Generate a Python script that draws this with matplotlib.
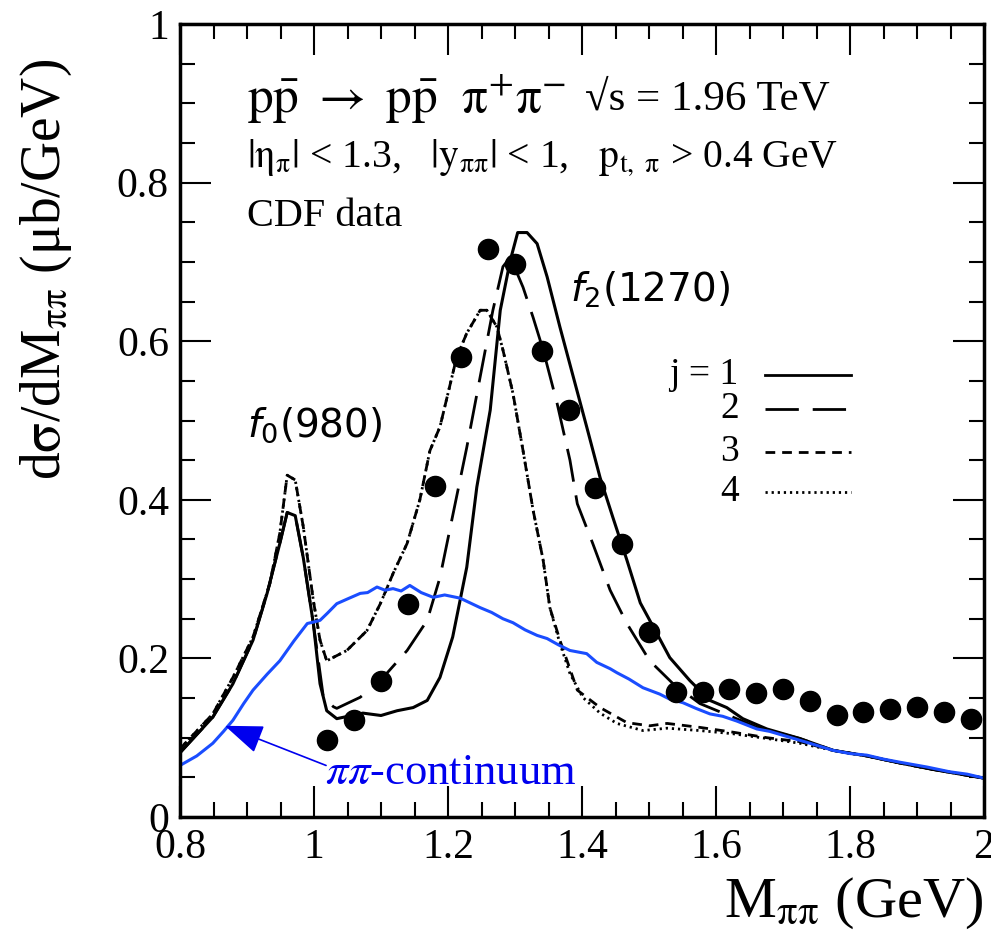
import matplotlib
matplotlib.use("Agg")
import matplotlib.pyplot as plt
import numpy as np

plt.rcParams['font.family'] = ['Liberation Serif', 'DejaVu Serif']
plt.rcParams['mathtext.fontset'] = 'stix'

# ---- data ----
data_m = [1.02, 1.06, 1.10, 1.14, 1.18, 1.22, 1.26, 1.30, 1.34, 1.38, 1.42, 1.46, 1.50,
          1.54, 1.58, 1.62, 1.66, 1.70, 1.74, 1.78, 1.82, 1.86, 1.90, 1.94, 1.98]
data_v = [0.097, 0.122, 0.171, 0.268, 0.417, 0.580, 0.716, 0.697, 0.588, 0.513, 0.415, 0.344, 0.233,
          0.157, 0.157, 0.162, 0.156, 0.162, 0.146, 0.129, 0.132, 0.136, 0.139, 0.133, 0.124]

tail_m = [1.775, 1.825, 1.875, 1.924, 1.965, 2.0]
tail_v = [0.084, 0.077, 0.068, 0.060, 0.054, 0.049]

j1_m = [0.800, 0.849, 0.879, 0.909, 0.930, 0.949, 0.960, 0.972, 0.984, 0.999, 1.009, 1.019, 1.034,
        1.073, 1.100, 1.124, 1.148, 1.169, 1.188, 1.207, 1.228, 1.243, 1.263, 1.278, 1.293, 1.304,
        1.318, 1.333, 1.348, 1.367, 1.387, 1.407, 1.427, 1.446, 1.467, 1.487, 1.512, 1.531, 1.561,
        1.591, 1.616, 1.640, 1.676, 1.725]
j1_v = [0.081, 0.126, 0.168, 0.223, 0.282, 0.345, 0.384, 0.380, 0.327, 0.244, 0.168, 0.134, 0.124,
        0.131, 0.128, 0.134, 0.138, 0.147, 0.176, 0.227, 0.315, 0.416, 0.513, 0.639, 0.702, 0.737,
        0.737, 0.723, 0.681, 0.618, 0.555, 0.492, 0.428, 0.378, 0.324, 0.270, 0.231, 0.201, 0.172,
        0.147, 0.138, 0.124, 0.111, 0.099]

j2_m = [0.800, 0.849, 0.879, 0.909, 0.930, 0.949, 0.960, 0.972, 0.984, 0.999, 1.014, 1.029, 1.034,
        1.069, 1.099, 1.139, 1.169, 1.188, 1.207, 1.228, 1.248, 1.267, 1.282, 1.293, 1.312, 1.327,
        1.342, 1.363, 1.382, 1.393, 1.416, 1.442, 1.467, 1.501, 1.536, 1.576, 1.625, 1.661, 1.725]
j2_v = [0.081, 0.126, 0.168, 0.223, 0.282, 0.345, 0.384, 0.380, 0.327, 0.244, 0.151, 0.139, 0.137,
        0.151, 0.172, 0.210, 0.248, 0.302, 0.380, 0.466, 0.555, 0.639, 0.694, 0.706, 0.668, 0.630,
        0.589, 0.521, 0.450, 0.395, 0.345, 0.286, 0.244, 0.197, 0.168, 0.143, 0.126, 0.113, 0.099]

j3_m = [0.800, 0.849, 0.879, 0.909, 0.934, 0.949, 0.960, 0.972, 0.984, 0.999, 1.009, 1.019, 1.049,
        1.079, 1.099, 1.118, 1.139, 1.158, 1.173, 1.188, 1.213, 1.228, 1.248, 1.258, 1.273, 1.282,
        1.297, 1.312, 1.327, 1.342, 1.352, 1.367, 1.393, 1.427, 1.467, 1.501, 1.527, 1.576, 1.625,
        1.676, 1.725]
j3_v = [0.086, 0.130, 0.176, 0.227, 0.294, 0.358, 0.431, 0.425, 0.366, 0.273, 0.223, 0.197, 0.210,
        0.235, 0.269, 0.307, 0.345, 0.400, 0.462, 0.492, 0.580, 0.610, 0.639, 0.639, 0.618, 0.589,
        0.534, 0.462, 0.387, 0.324, 0.264, 0.223, 0.160, 0.138, 0.119, 0.115, 0.118, 0.113, 0.107,
        0.100, 0.095]

j4_m = [0.800, 0.849, 0.879, 0.909, 0.934, 0.949, 0.960, 0.972, 0.984, 0.999, 1.009, 1.019, 1.049,
        1.079, 1.099, 1.118, 1.139, 1.158, 1.173, 1.188, 1.213, 1.228, 1.248, 1.258, 1.273, 1.282,
        1.297, 1.312, 1.327, 1.342, 1.352, 1.367, 1.382, 1.401, 1.427, 1.452, 1.491, 1.527, 1.576,
        1.625, 1.676, 1.725]
j4_v = [0.086, 0.130, 0.176, 0.227, 0.294, 0.358, 0.431, 0.425, 0.366, 0.273, 0.223, 0.197, 0.210,
        0.235, 0.269, 0.307, 0.345, 0.400, 0.462, 0.492, 0.580, 0.610, 0.639, 0.639, 0.618, 0.589,
        0.534, 0.462, 0.387, 0.324, 0.264, 0.219, 0.181, 0.151, 0.131, 0.118, 0.109, 0.112, 0.109,
        0.105, 0.099, 0.093]

cont_m = [0.800, 0.825, 0.849, 0.865, 0.879, 0.895, 0.909, 0.930, 0.949, 0.970, 0.990, 1.000, 1.009,
          1.020, 1.034, 1.050, 1.069, 1.080, 1.094, 1.106, 1.118, 1.130, 1.143, 1.160, 1.178, 1.195,
          1.218, 1.233, 1.248, 1.265, 1.282, 1.297, 1.315, 1.333, 1.348, 1.365, 1.382, 1.407, 1.422,
          1.442, 1.452, 1.470, 1.491, 1.516, 1.530, 1.551, 1.570, 1.591, 1.610, 1.631, 1.661, 1.680,
          1.700, 1.740, 1.775, 1.800, 1.825, 1.850, 1.875, 1.915, 1.949, 1.975, 2.000]
cont_v = [0.065, 0.077, 0.093, 0.108, 0.122, 0.143, 0.160, 0.180, 0.197, 0.222, 0.244, 0.246, 0.248,
          0.257, 0.269, 0.275, 0.282, 0.283, 0.290, 0.286, 0.288, 0.285, 0.292, 0.283, 0.277, 0.280,
          0.276, 0.270, 0.264, 0.258, 0.250, 0.245, 0.236, 0.229, 0.225, 0.217, 0.210, 0.206, 0.195,
          0.187, 0.182, 0.174, 0.163, 0.155, 0.149, 0.144, 0.137, 0.130, 0.127, 0.121, 0.111, 0.108,
          0.103, 0.093, 0.084, 0.080, 0.078, 0.073, 0.069, 0.063, 0.057, 0.054, 0.049]

legend_labels = ['1', '2', '3', '4']

# ---- figure ----
fig = plt.figure(figsize=(9.91, 9.42), dpi=100)
ax = fig.add_axes([180/991, (942-817)/942, 804/991, 793/942])

LS2 = (0, (12, 5))
LS3 = (0, (3.5, 2.5))
LS4 = (0, (0.8, 1.4))
ax.plot(j1_m + tail_m, j1_v + tail_v, color='black', lw=2.2, ls='-')
ax.plot(j2_m + tail_m, j2_v + tail_v, color='black', lw=2.0, ls=LS2)
ax.plot(j3_m + tail_m, j3_v + tail_v, color='black', lw=2.0, ls=LS3)
ax.plot(j4_m + tail_m, j4_v + tail_v, color='black', lw=2.0, ls=LS4)
ax.plot(cont_m, cont_v, color='#1a4dff', lw=2.2)
ax.plot(data_m, data_v, 'o', color='black', ms=14.5, zorder=5)

ax.set_xlim(0.8, 2.0)
ax.set_ylim(0, 1)
ax.set_xticks([0.8, 1.0, 1.2, 1.4, 1.6, 1.8, 2.0])
ax.set_xticklabels(['0.8', '1', '1.2', '1.4', '1.6', '1.8', '2'])
ax.set_yticks([0, 0.2, 0.4, 0.6, 0.8, 1.0])
ax.set_yticklabels(['0', '0.2', '0.4', '0.6', '0.8', '1'])
ax.set_xticks(np.arange(0.8, 2.0001, 0.05), minor=True)
ax.set_yticks(np.arange(0, 1.0001, 0.05), minor=True)
ax.tick_params(which='both', direction='in', top=True, right=True, width=1.5)
ax.tick_params(which='major', length=22, labelsize=30, pad=8)
ax.tick_params(which='minor', length=11)
for s in ax.spines.values():
    s.set_linewidth(2.5)

ax.set_ylabel(r'd$\mathrm{\sigma}$/dM$_{\mathrm{\pi\pi}}$ (μb/GeV)', fontsize=40, labelpad=10)
ax.yaxis.set_label_coords(-0.132, 0.69)
fig.text(0.992, 0.012, r'M$_{\mathrm{\pi\pi}}$ (GeV)', fontsize=42, ha='right', va='bottom')

# annotations
ax.text(0.083, 0.905, r'$\mathrm{p\bar{p}\ \rightarrow\ p\bar{p}\ \ \pi^{+}\pi^{-}}$', transform=ax.transAxes,
        fontsize=37, va='center')
ax.text(0.504, 0.905, '√s = 1.96 TeV', transform=ax.transAxes, fontsize=31, va='center')
ax.text(0.083, 0.83, r'$|\mathrm{\eta_{\pi}}|$ < 1.3,   $|\mathrm{y_{\pi\pi}}|$ < 1,   $\mathrm{p_{t,\ \pi}}$ > 0.4 GeV',
        transform=ax.transAxes, fontsize=28.5, va='center')
ax.text(0.083, 0.757, 'CDF data', transform=ax.transAxes, fontsize=29, va='center')

ax.text(0.083, 0.494, r'$f_0$(980)', transform=ax.transAxes, fontsize=28, va='center',
        family='DejaVu Sans', math_fontfamily='dejavusans')
ax.text(0.485, 0.665, r'$f_2$(1270)', transform=ax.transAxes, fontsize=28, va='center',
        family='DejaVu Sans', math_fontfamily='dejavusans')

# legend (hand made)
leg_y = [0.558, 0.515, 0.46, 0.41]
leg_ls = ['-', LS2, LS3, LS4]
for i, (lab, ls) in enumerate(zip(legend_labels, leg_ls)):
    txt = ('j = ' + lab) if i == 0 else lab
    ax.text(0.695, leg_y[i], txt, transform=ax.transAxes, fontsize=27, va='center', ha='right')
    ax.plot([0.727, 0.835], [leg_y[i], leg_y[i]], transform=ax.transAxes, color='black',
            lw=2.0, ls=ls)

ax.annotate('', xy=(0.867, 0.115), xytext=(1.018, 0.065),
            arrowprops=dict(arrowstyle='-|>,head_length=2.4,head_width=0.9', color='#0000ee',
                            lw=1.2, shrinkA=0, shrinkB=0))
ax.text(1.017, 0.055, r'$\pi\pi$-continuum', fontsize=32, color='#0000ee', va='center', ha='left')

fig.savefig('out.png', dpi=100)
